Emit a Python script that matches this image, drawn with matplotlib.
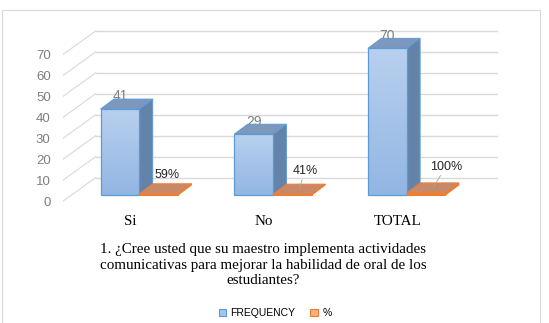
import matplotlib
matplotlib.use('Agg')
import matplotlib.pyplot as plt
import numpy as np
from matplotlib.patches import Polygon, Rectangle
from matplotlib.colors import LinearSegmentedColormap

# ---------------- data ----------------
categories = ['Si', 'No', 'TOTAL']
frequency = [41, 29, 70]
percent = [0.59, 0.41, 1.00]
percent_labels = ['59%', '41%', '100%']
yticks = [0, 10, 20, 30, 40, 50, 60, 70]
series_names = ['FREQUENCY', '%']
title = ('1. ¿Cree usted que su maestro implementa actividades\n'
         'comunicativas para mejorar la habilidad de oral de los\n'
         'estudiantes?')

# ---------------- style / layout ----------------
W, H, DPI = 549, 323, 100
px_left, px_right = 62.5, 500.0
px_bottom, px_top = 201.5, 10.0
x_per_cat = 133.7
y_per_unit = 2.095
x0_center = 130.3
grid_right_px = 496.7

wall = (33.3 / x_per_cat, 24.0 / y_per_unit)      # front -> back wall
plane = (9.0 / x_per_cat, 6.5 / y_per_unit)       # front -> bar plane
bdepth = (13.4 / x_per_cat, 10.0 / y_per_unit)    # bar depth
bw = 0.29

grid_c = '#d9d9d9'
tick_c = '#7f7f7f'
blue_edge = '#5b9bd5'
blue_side = '#6483aa'
blue_top = '#7d98bc'
orange = '#ed7d31'
orange_top = '#c98866'
orange_side = '#e0803f'
label_c = '#262626'

pct_offsets = [(1.3, 9.9), (4.3, 13.0), (9.6, 15.3)]  # points
show_leader = [False, True, True]

fig = plt.figure(figsize=(W / DPI, H / DPI), dpi=DPI)
ax = fig.add_axes([px_left / W, 1 - px_bottom / H,
                   (px_right - px_left) / W, (px_bottom - px_top) / H])
xlim = ((px_left - x0_center) / x_per_cat, (px_right - x0_center) / x_per_cat)
ylim = (0, (px_bottom - px_top) / y_per_unit)
xr = (grid_right_px - x0_center) / x_per_cat

# ---------------- grid (floor diagonals + back wall) ----------------
xl = xlim[0]
for v in yticks:
    ax.plot([xl, xl + wall[0]], [v, v + wall[1]], color=grid_c, lw=0.8, zorder=1)
    ax.plot([xl + wall[0], xr], [v + wall[1], v + wall[1]], color=grid_c, lw=1.0, zorder=1)

# ---------------- blue bars ----------------
x = np.arange(len(categories))
blue_left = x + plane[0] - bw
bars = ax.bar(blue_left, frequency, width=bw, bottom=plane[1], align='edge',
              color='#a6c4e8', edgecolor='none', zorder=4)
cmap = LinearSegmentedColormap.from_list('bg', ['#92b6e3', '#b8d0ee'])
grad = np.linspace(0, 1, 100).reshape(-1, 1)
for b in bars:
    l, bt = b.get_x(), b.get_y()
    r, t = l + b.get_width(), bt + b.get_height()
    im = ax.imshow(grad, extent=[l, r, bt, t], origin='lower', aspect='auto',
                   cmap=cmap, zorder=4.2)
    im.set_clip_path(b)
    ax.add_patch(Polygon([(r, bt), (r + bdepth[0], bt + bdepth[1]),
                          (r + bdepth[0], t + bdepth[1]), (r, t)],
                         closed=True, facecolor=blue_side, edgecolor=blue_edge,
                         lw=0.7, zorder=3.8))
    ax.add_patch(Polygon([(l, t), (r, t), (r + bdepth[0], t + bdepth[1]),
                          (l + bdepth[0], t + bdepth[1])],
                         closed=True, facecolor=blue_top, edgecolor=blue_edge,
                         lw=0.7, zorder=3.8))
ax.bar(blue_left, frequency, width=bw, bottom=plane[1], align='edge',
       color='none', edgecolor=blue_edge, lw=0.9, zorder=4.5)

for b, v in zip(bars, frequency):
    cx = b.get_x() + b.get_width() / 2
    ty = b.get_y() + b.get_height() + bdepth[1]
    ax.text(cx, ty + 1.3, str(v), ha='center', va='center', fontsize=10,
            color=tick_c, family='Liberation Sans', zorder=3)

# ---------------- orange bars ----------------
obars = ax.bar(x + plane[0], percent, width=bw, bottom=plane[1], align='edge',
               color=orange, edgecolor=orange, lw=0.8, zorder=5)
for b, lab, off, lead in zip(obars, percent_labels, pct_offsets, show_leader):
    l, bt = b.get_x(), b.get_y()
    r, t = l + b.get_width(), bt + b.get_height()
    ax.add_patch(Polygon([(l, t), (r, t), (r + bdepth[0], t + bdepth[1]),
                          (l + bdepth[0], t + bdepth[1])],
                         closed=True, facecolor=orange_top, edgecolor=orange,
                         lw=0.7, zorder=5.2))
    ax.add_patch(Polygon([(r, bt), (r + bdepth[0], bt + bdepth[1]),
                          (r + bdepth[0], t + bdepth[1]), (r, t)],
                         closed=True, facecolor=orange_side, edgecolor=orange,
                         lw=0.7, zorder=5.1))
    xy = ((l + r) / 2 + bdepth[0] / 2, t + bdepth[1] / 2)
    ap = dict(arrowstyle='-', color='#a6a6a6', lw=0.6, shrinkA=0, shrinkB=0) if lead else None
    ax.annotate(lab, xy=xy, xytext=off, textcoords='offset points',
                ha='center', va='center', fontsize=9, color=label_c,
                family='Liberation Sans', arrowprops=ap, zorder=6)

# ---------------- axes cosmetics ----------------
ax.set_xlim(*xlim)
ax.set_ylim(*ylim)
for s in ax.spines.values():
    s.set_visible(False)
ax.set_yticks(yticks)
ax.set_yticklabels([str(t) for t in yticks], family='Liberation Sans')
ax.tick_params(axis='y', length=0, pad=8.5, labelsize=9.5, labelcolor=tick_c)
ax.set_xticks(x)
ax.set_xticklabels(categories, family='Liberation Serif')
ax.tick_params(axis='x', length=0, pad=10, labelsize=10.8, labelcolor='black')
ax.patch.set_visible(False)

# ---------------- title & legend ----------------
fig.text(263.5 / W, 1 - 243.5 / H, title, ha='center', va='top',
         fontsize=10.8, family='Liberation Serif', linespacing=1.22)

handles = [Rectangle((0, 0), 1, 1, facecolor='#a6c4e8', edgecolor=blue_edge, lw=0.8),
           Rectangle((0, 0), 1, 1, facecolor='#f4b183', edgecolor=orange, lw=0.8)]
fig.legend(handles, series_names, loc='center', bbox_to_anchor=(275 / W, 1 - 313 / H),
           ncol=2, frameon=False, prop={'family': 'Liberation Sans', 'size': 7.5},
           handlelength=0.75, handleheight=0.75, handletextpad=0.4, columnspacing=1.4)

# ---------------- outer border ----------------
fig.patches.append(Rectangle((2 / W, -0.05), (540 - 2) / W, 1.05 - 10 / H,
                             transform=fig.transFigure, fill=False,
                             edgecolor='#d9d9d9', lw=0.8))

fig.savefig('out.png', dpi=DPI)
